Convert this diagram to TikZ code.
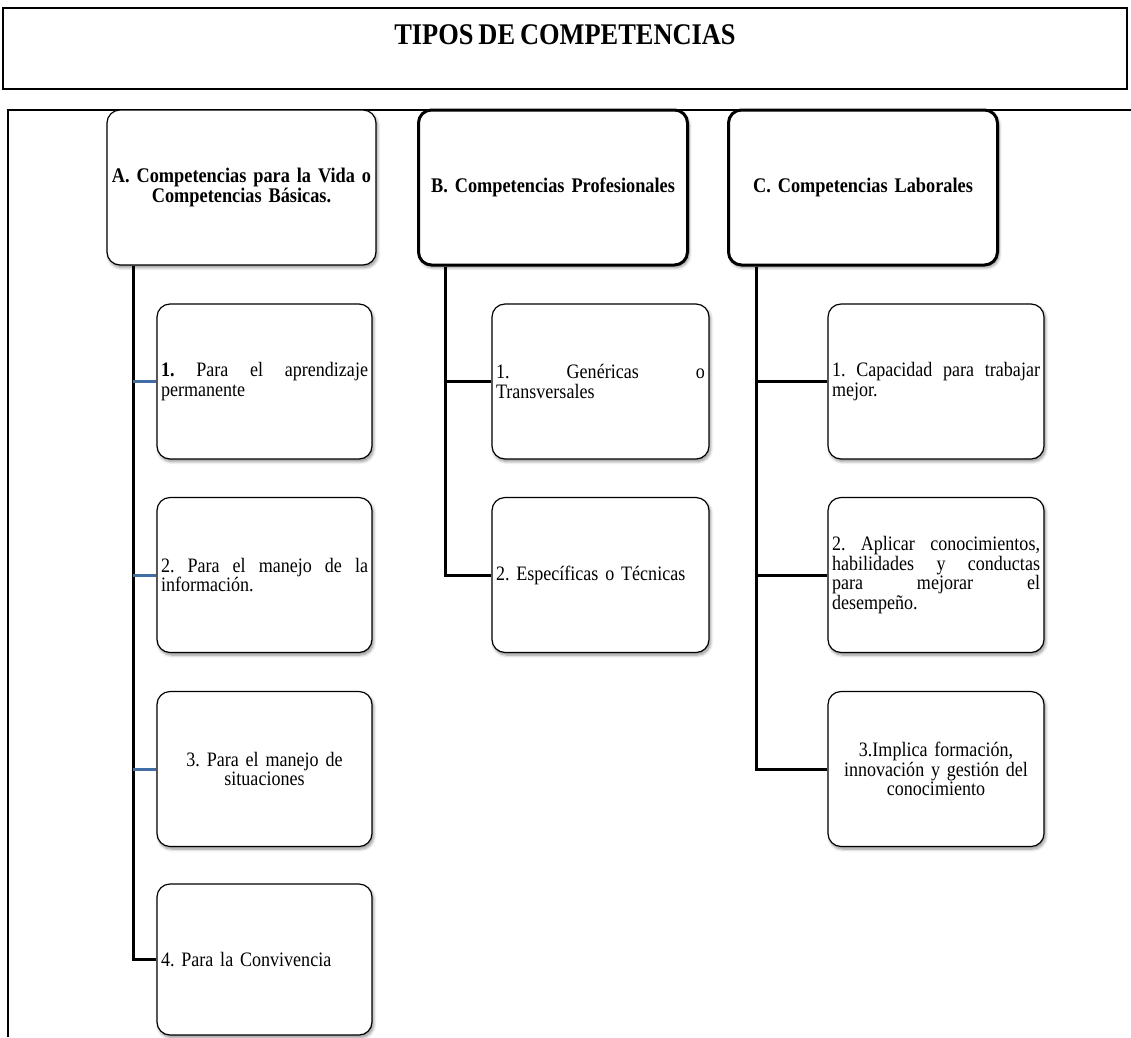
\documentclass[tikz,border=0pt]{standalone}
\usepackage{fontspec}
\setmainfont{Liberation Serif}
\newfontfamily\narrowserif{Liberation Serif}[FakeStretch=0.88, WordSpace=0.75]
\usetikzlibrary{shadows.blur}
\definecolor{branchblue}{RGB}{66,108,164}
\frenchspacing
\begin{document}
\begin{tikzpicture}[x=1pt,y=-1pt,
  softshadow/.style={blur shadow={shadow xshift=1.5pt, shadow yshift=-2.5pt, shadow blur steps=6, shadow blur radius=3pt, shadow opacity=45}},
  titlebox/.style={draw, line width=1.8pt, anchor=north, minimum width=1124pt, inner sep=0pt,
    text height=37pt, text depth=44pt, font=\narrowserif\bfseries\fontsize{30}{32}\selectfont},
  headbox/.style={draw, fill=white, rounded corners=13pt, softshadow, minimum height=155pt,
    inner xsep=4pt, text width=261pt, align=center, font=\narrowserif\bfseries\fontsize{20.8}{19.5}\selectfont},
  thinhead/.style={headbox, line width=1.2pt},
  thickhead/.style={headbox, line width=3pt},
  itembox/.style={draw, fill=white, line width=1.2pt, rounded corners=13pt, softshadow,
    minimum height=155pt, inner xsep=4pt, font=\narrowserif\fontsize{20.5}{19.5}\selectfont},
  itemA/.style={itembox, text width=207pt},
  itemB/.style={itembox, text width=209pt},
  itemC/.style={itembox, text width=208pt},
  spine/.style={line width=3pt},
  bluebranch/.style={line width=3pt, branchblue},
  frame/.style={line width=1.5pt}]
\useasboundingbox (0,0) rectangle (1131,1037);

% heading
\node[titlebox] (title) at (565,7) {TIPOS DE COMPETENCIAS};

% open frame around the three branches
\coordinate (fbl) at (8,1037);
\coordinate (ftl) at (8,110);
\coordinate (ftr) at (1131,110);
\draw[frame] (fbl) -- (ftl) -- (ftr);

% the three families of competences
\node[thinhead]  (hA) at (241.5,187.5) {A. Competencias para la Vida o\\Competencias Básicas.};
\node[thickhead] (hB) at (553,187.5)   {B. Competencias Profesionales};
\node[thickhead] (hC) at (863,187.5)   {C. Competencias Laborales};

% A: competences for life
\node[itemA, align=justify] (a1) at (264.5,381.5) {\textbf{1.} Para el aprendizaje\linebreak permanente};
\node[itemA, align=justify] (a2) at (264.5,575)   {2. Para el manejo de la\linebreak información.};
\node[itemA, align=center]  (a3) at (264.5,769)   {3. Para el manejo de\\situaciones};
\node[itemA, align=left, minimum height=151pt] (a4) at (264.5,959.5) {4. Para la Convivencia};

% B: professional competences
\node[itemB, align=justify] (b1) at (600.5,381.5) {1. Genéricas o\linebreak Transversales};
\node[itemB, align=left]    (b2) at (600.5,575)   {2. Específicas o Técnicas};

% C: labour competences
\node[itemC, align=justify] (c1) at (936,381.5) {1. Capacidad para trabajar\linebreak mejor.};
\node[itemC, align=justify] (c2) at (936,575)   {2. Aplicar conocimientos,\linebreak habilidades y conductas\linebreak para mejorar el\linebreak desempeño.};
\node[itemC, align=center]  (c3) at (936,769)   {3.Implica formación,\\innovación y gestión del\\conocimiento};

% vertical spines under each family
\coordinate (sA) at ([xshift=27pt]hA.south west);
\coordinate (sB) at ([xshift=28pt]hB.south west);
\coordinate (sC) at ([xshift=29pt]hC.south west);

\draw[spine] (sA) |- (a4.west);
\draw[bluebranch] (a1.west -| sA) -- (a1.west);
\draw[bluebranch] (a2.west -| sA) -- (a2.west);
\draw[bluebranch] (a3.west -| sA) -- (a3.west);

\draw[spine] (sB) |- (b2.west);
\draw[spine] (b1.west -| sB) -- (b1.west);

\draw[spine] (sC) |- (c3.west);
\draw[spine] (c1.west -| sC) -- (c1.west);
\draw[spine] (c2.west -| sC) -- (c2.west);
\end{tikzpicture}
\end{document}
